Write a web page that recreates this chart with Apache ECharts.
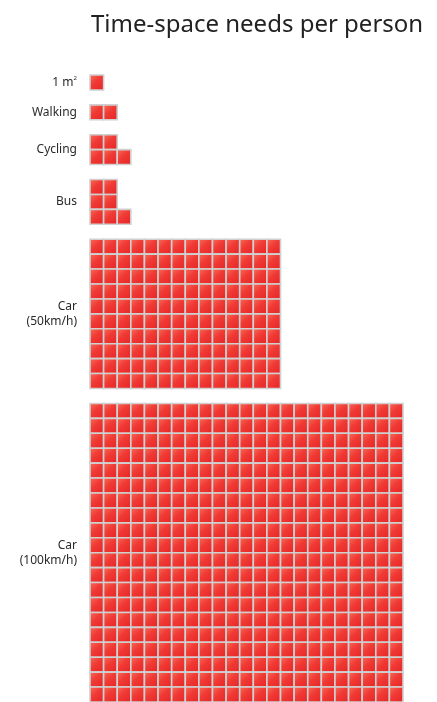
<!DOCTYPE html>
<html>
<head>
<meta charset="utf-8">
<style>
  html, body { margin: 0; padding: 0; background: #ffffff; }
  #chart { width: 437px; height: 702px; }
</style>
<script src="https://cdn.jsdelivr.net/npm/echarts@6/dist/echarts.min.js"></script>
</head>
<body>
<div id="chart"></div>
<script>
// Space taken by one person, in square metres, drawn as one tile per m².
const categories = ['1 m²', 'Walking', 'Cycling', 'Bus', 'Car\n(50km/h)', 'Car\n(100km/h)'];

// Tiles in each row of a block, top row first.
const rowTiles = [
  [1],
  [2],
  [2, 3],
  [2, 2, 3],
  [14, 14, 14, 14, 14, 14, 14, 14, 14, 14],
  [23, 23, 23, 23, 23, 23, 23, 23, 23, 23, 23, 23, 23, 23, 23, 23, 23, 23, 23, 23]
];

const titleText = 'Time-space needs per person';

// Stack the blocks top to bottom, leaving one empty row between them.
const tiles = [];
const labelRows = [];
let nextRow = 0;
rowTiles.forEach((rows, b) => {
  rows.forEach((n, r) => {
    for (let c = 0; c < n; c++) tiles.push([c, nextRow + r, b]);
  });
  labelRows.push([nextRow + rows.length / 2, b]);
  nextRow += rows.length + 1;
});
const totalRows = nextRow - 1;
const maxCols = Math.max(...rowTiles.map(rows => Math.max(...rows)));

const tileFill = new echarts.graphic.LinearGradient(0, 0, 1, 1, [
  { offset: 0, color: '#f8705f' },
  { offset: 0.45, color: '#f03a34' },
  { offset: 1, color: '#e52326' }
]);

const chart = echarts.init(document.getElementById('chart'), null, { renderer: 'canvas' });

chart.setOption({
  animation: false,
  backgroundColor: '#ffffff',
  title: {
    text: titleText,
    left: 86,
    top: 8,
    textStyle: { fontFamily: 'Noto Sans', fontSize: 24, fontWeight: 'normal', color: '#222222' }
  },
  grid: { left: 90, top: 75, width: 313, height: totalRows * 15 },
  xAxis: { type: 'value', min: 0, max: maxCols, show: false },
  yAxis: { type: 'value', min: 0, max: totalRows, inverse: true, show: false },
  series: [
    {
      type: 'custom',
      name: 'tiles',
      data: tiles,
      renderItem: (params, api) => {
        const p = api.coord([api.value(0), api.value(1)]);
        const s = api.size([1, 1]);
        return {
          type: 'rect',
          shape: { x: p[0], y: p[1], width: s[0], height: s[1] },
          style: { fill: tileFill, stroke: '#d0d0d0', lineWidth: 1.6 }
        };
      }
    },
    {
      type: 'custom',
      name: 'labels',
      data: labelRows,
      renderItem: (params, api) => {
        const p = api.coord([0, api.value(0)]);
        const text = categories[api.value(1)].replace('²', '{sup|2}');
        return {
          type: 'text',
          x: p[0] - 13,
          y: p[1],
          style: {
            text: text,
            align: 'right',
            verticalAlign: 'middle',
            fontFamily: 'Noto Sans',
            fontSize: 12,
            lineHeight: 15,
            fill: '#2a2a2a',
            rich: {
              sup: { fontSize: 6, verticalAlign: 'top', padding: [0, 0, 7, 0], fontFamily: 'Noto Sans', fill: '#2a2a2a' }
            }
          }
        };
      }
    }
  ]
});
</script>
</body>
</html>
